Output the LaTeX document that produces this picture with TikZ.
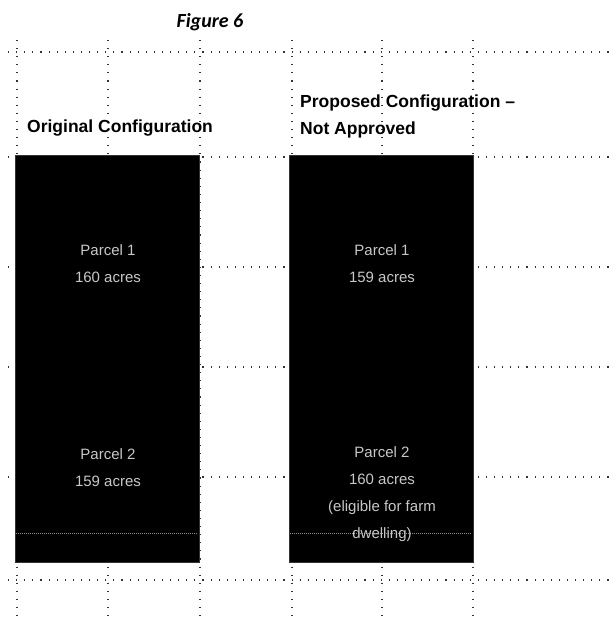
\documentclass[tikz,border=0pt]{standalone}
\usepackage{fontspec}
\setmainfont{Liberation Sans}
\newfontfamily\titlefont{Carlito}
\definecolor{parceltxt}{HTML}{C8C8C8}
\begin{document}
\begin{tikzpicture}[x=1pt,y=-1pt,
  gridline/.style={line width=1.1pt,dash pattern=on 1.1pt off 7pt,black!80},
  parcelbox/.style={fill=black,draw=black!80,line width=0.6pt},
  header/.style={font=\fontsize{17.5}{27}\selectfont\bfseries,anchor=west,align=left,inner sep=0pt},
  parceltext/.style={font=\fontsize{15}{27}\selectfont,text=parceltxt,align=center,inner sep=0pt},
  innerline/.style={line width=0.5pt,black!45!white,dash pattern=on 1pt off 1pt}]
\useasboundingbox (0,0) rectangle (609,620);
% grid
\foreach \x in {17,108,200,292,382,473} \draw[gridline] (\x,40) -- (\x,620);
\foreach \y in {52,157,267,367,477,580} \draw[gridline] (8,\y) -- (609,\y);
% title
\node[font=\titlefont\fontsize{20}{22}\selectfont\bfseries\itshape,inner sep=0pt] (title) at (210,22) {Figure 6};
% headers
\node[header] (hleft) at (27,128) {Original Configuration};
\node[header] (hright) at (300,116) {Proposed Configuration --\\Not Approved};
% boxes
\draw[parcelbox] (15,155) rectangle (199,562);
\draw[parcelbox] (289,155) rectangle (473,562);
\coordinate (ll) at (16,533); \coordinate (lr) at (198,533);
\coordinate (rl) at (290,533); \coordinate (rr) at (472,533);
\draw[innerline] (ll) -- (lr);
\draw[innerline] (rl) -- (rr);
% parcel texts
\node[parceltext] (p1l) at (108,264) {Parcel 1\\160 acres};
\node[parceltext] (p1r) at (382,264) {Parcel 1\\159 acres};
\node[parceltext] (p2l) at (108,468) {Parcel 2\\159 acres};
\node[parceltext] (p2r) at (382,494) {Parcel 2\\160 acres\\(eligible for farm\\dwelling)};
\end{tikzpicture}
\end{document}
